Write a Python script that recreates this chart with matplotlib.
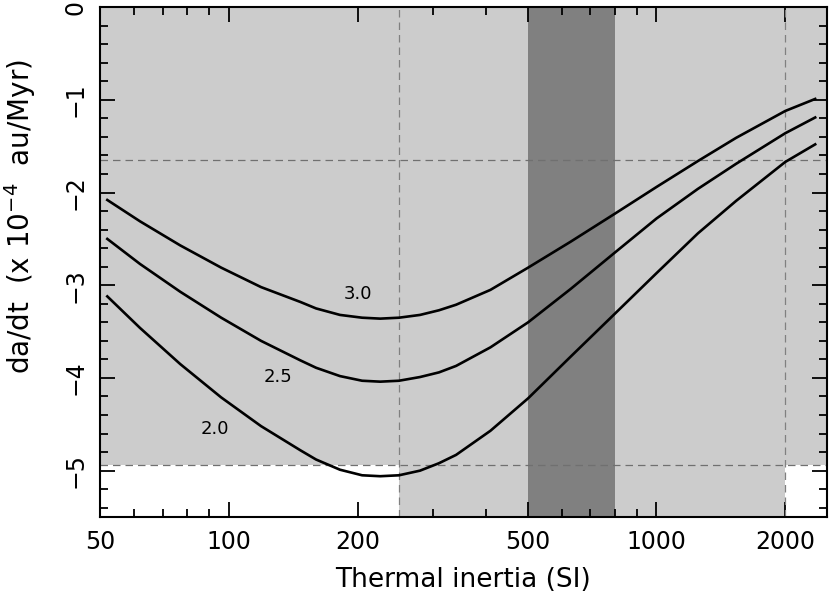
import matplotlib
matplotlib.use("Agg")
import matplotlib.pyplot as plt
from matplotlib.ticker import FixedLocator, NullFormatter, MultipleLocator

# ------------- DATA ------------- #
inertia = [52, 62, 77, 96, 119, 147, 160, 182, 205, 226, 250, 280, 310, 340, 409, 501, 630, 798,
           1000, 1250, 1535, 2000, 2350]
dadt_30 = [-2.08, -2.31, -2.57, -2.81, -3.02, -3.18, -3.25, -3.32, -3.35, -3.36, -3.35, -3.32, -3.27,
           -3.21, -3.05, -2.81, -2.53, -2.23, -1.94, -1.66, -1.41, -1.12, -0.99]
dadt_25 = [-2.50, -2.77, -3.07, -3.35, -3.60, -3.81, -3.89, -3.98, -4.03, -4.04, -4.03, -3.99, -3.94,
           -3.87, -3.67, -3.40, -3.04, -2.65, -2.28, -1.96, -1.69, -1.36, -1.19]
dadt_20 = [-3.12, -3.46, -3.85, -4.21, -4.52, -4.78, -4.88, -4.99, -5.05, -5.06, -5.05, -5.00, -4.92,
           -4.83, -4.57, -4.22, -3.77, -3.31, -2.87, -2.44, -2.09, -1.67, -1.48]
curve_labels = ['3.0', '2.5', '2.0']
label_x = [200, 130, 93]
label_y = [-3.09, -3.99, -4.55]

# shaded ranges
obs_low, obs_high = -4.94, -1.65
gamma_low, gamma_high = 250, 2000
best_low, best_high = 500, 800

x_major = [50, 100, 200, 500, 1000, 2000]
x_minor = [60, 70, 80, 90, 300, 400, 600, 700, 800, 900]

# ------------- PLOT ------------- #
fig = plt.figure(figsize=(8.3, 5.97), dpi=100)
ax = fig.add_axes([0.1205, 0.134, 0.8755, 0.854])

light = '#cccccc'
dark = '#808080'
ax.axhspan(obs_low, 0, color=light, lw=0, zorder=0)
ax.axvspan(gamma_low, gamma_high, color=light, lw=0, zorder=0)
ax.axvspan(best_low, best_high, color=dark, lw=0, zorder=1)

for v in (obs_low, obs_high):
    ax.axhline(v, color='#707070', ls=(0, (6, 4)), lw=0.9, zorder=2)
for v in (gamma_low, gamma_high):
    ax.axvline(v, color='#808080', ls=(0, (6, 4)), lw=0.9, zorder=2)

for ys in (dadt_30, dadt_25, dadt_20):
    ax.plot(inertia, ys, color='black', lw=1.9, zorder=3, solid_joinstyle='round')

for t, lx, ly in zip(curve_labels, label_x, label_y):
    ax.text(lx, ly, t, fontsize=13, ha='center', va='center', zorder=4)

ax.set_xscale('log')
ax.set_xlim(50, 2500)
ax.set_ylim(-5.5, 0)

ax.xaxis.set_major_locator(FixedLocator(x_major))
ax.xaxis.set_minor_locator(FixedLocator(x_minor))
ax.xaxis.set_minor_formatter(NullFormatter())
ax.set_xticklabels([str(v) for v in x_major])
ax.yaxis.set_major_locator(MultipleLocator(1))
ax.yaxis.set_minor_locator(MultipleLocator(0.2))

ax.tick_params(which='both', direction='in', top=True, right=True, width=1.3, labelsize=17)
ax.tick_params(which='major', length=11, pad=9)
ax.tick_params(which='minor', length=6)
for lab in ax.get_yticklabels():
    lab.set_rotation(90)
    lab.set_va('center')
for s in ax.spines.values():
    s.set_linewidth(1.5)

ax.set_xlabel('Thermal inertia (SI)', fontsize=19, labelpad=10)
ax.set_ylabel('da/dt  (x 10$^{-4}$  au/Myr)', fontsize=20)
ax.yaxis.set_label_coords(-0.086, 0.59)

plt.savefig('out.png', dpi=100)
